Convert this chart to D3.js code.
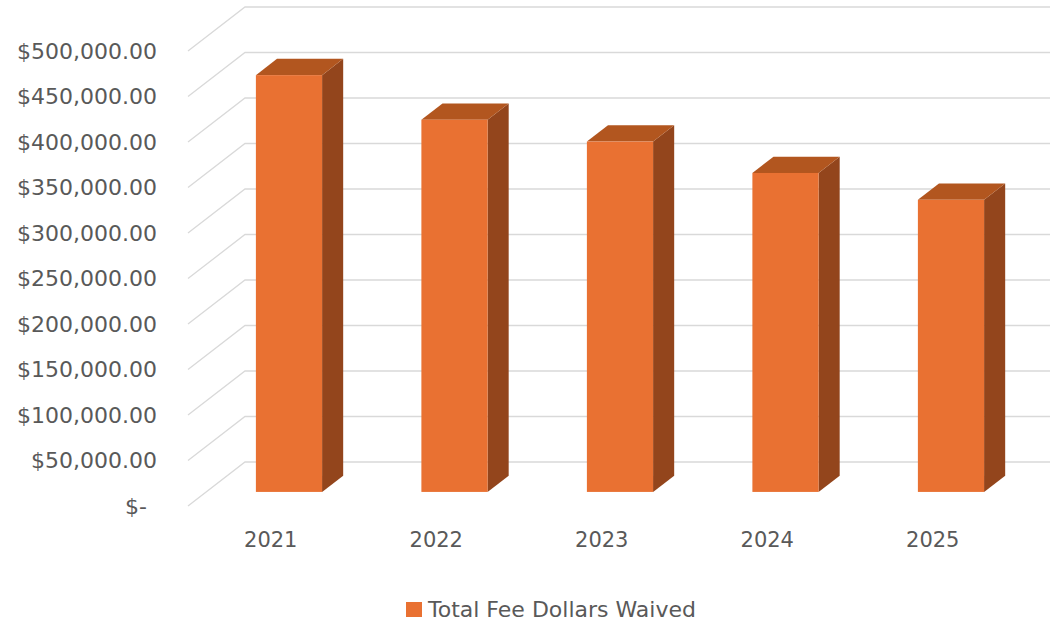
<!DOCTYPE html>
<html>
<head>
<meta charset="utf-8">
<script src="https://cdn.jsdelivr.net/npm/d3@7"></script>
<style>
    body { margin: 0; background: #fff; }
    svg { display: block; font-family: "DejaVu Sans", sans-serif; }
    .axis text { fill: #595959; font-family: "DejaVu Sans", sans-serif; }
</style>
</head>
<body>
<svg id="chart" width="1050" height="627"></svg>
<script>
// chart data
var years = ["2021", "2022", "2023", "2024", "2025"];
var feesWaived = [458000, 409000, 385000, 350500, 321000];
var yTicks = [0, 50000, 100000, 150000, 200000, 250000, 300000, 350000, 400000, 450000, 500000];
var seriesName = "Total Fee Dollars Waived";

var svg = d3.select("#chart");

// front floor corner and the oblique depth vector of the 3d box
let left = 188, right = 1015.5,
    floorY = 506, topY = 51,
    depthX = 57, depthY = -44;

// bar sits between these fractions of the depth
let barFront = 0.32, barBack = 0.69;

let colors = {front: "#e97132", top: "#b2561f", side: "#93451c", grid: "#d9d9d9"};

let x = d3.scaleBand().domain(years).range([left, right]).paddingInner(0.6).paddingOuter(0.3);
let y = d3.scaleLinear().domain([0, 500000]).range([floorY, topY]);

// gridlines: slanted on the side wall, flat on the back wall
let grid = svg.append("g");
grid.selectAll("polyline")
    .data(yTicks)
    .enter().append("polyline")
    .attr("points", d => [
        [left, y(d)],
        [left + depthX, y(d) + depthY],
        [right + depthX, y(d) + depthY]
    ].join(" "))
    .attr("fill", "none")
    .attr("stroke", colors.grid)
    .attr("stroke-width", 1.3);

// y-axis labels
let yAxis = d3.axisLeft(y)
    .tickValues(yTicks)
    .tickSize(0)
    .tickPadding(31)
    .tickFormat(d => d === 0 ? "$-" : d3.format("$,.2f")(d));

svg.append("g")
    .attr("class", "axis")
    .attr("transform", "translate(" + left + ",0)")
    .call(yAxis)
    .attr("font-family", null)
    .call(g => g.select(".domain").remove())
    .call(g => g.selectAll("text").style("font-size", "22px")
        .attr("dx", d => d === 0 ? -10 : 0));

// x-axis labels
let xAxis = d3.axisBottom(x).tickSize(0).tickPadding(26);

svg.append("g")
    .attr("class", "axis")
    .attr("transform", "translate(0," + floorY + ")")
    .call(xAxis)
    .attr("font-family", null)
    .call(g => g.select(".domain").remove())
    .call(g => g.selectAll("text").style("font-size", "21px"));

// bars
let bars = svg.append("g").selectAll("g")
    .data(years.map((yr, i) => ({year: yr, value: feesWaived[i]})))
    .enter().append("g");

let fx = barFront * depthX, fy = barFront * depthY,
    bdx = (barBack - barFront) * depthX, bdy = (barBack - barFront) * depthY;

bars.each(function (d) {
    let g = d3.select(this);
    let xl = x(d.year) + fx,
        xr = xl + x.bandwidth(),
        top = y(d.value) + fy,
        bottom = y(0) + fy;

    // right side
    g.append("polygon")
        .attr("points", [[xr, top], [xr + bdx, top + bdy], [xr + bdx, bottom + bdy], [xr, bottom]].join(" "))
        .attr("fill", colors.side);

    // top
    g.append("polygon")
        .attr("points", [[xl, top], [xl + bdx, top + bdy], [xr + bdx, top + bdy], [xr, top]].join(" "))
        .attr("fill", colors.top);

    // front face
    g.append("rect")
        .attr("x", xl)
        .attr("y", top)
        .attr("width", x.bandwidth())
        .attr("height", bottom - top)
        .attr("fill", colors.front);
});

// legend
let legend = svg.append("g").attr("transform", "translate(406,602)");
legend.append("rect")
    .attr("width", 16)
    .attr("height", 15)
    .attr("fill", colors.front);
legend.append("text")
    .attr("x", 22)
    .attr("y", 15)
    .attr("fill", "#595959")
    .style("font-size", "22px")
    .text(seriesName);
</script>
</body>
</html>
